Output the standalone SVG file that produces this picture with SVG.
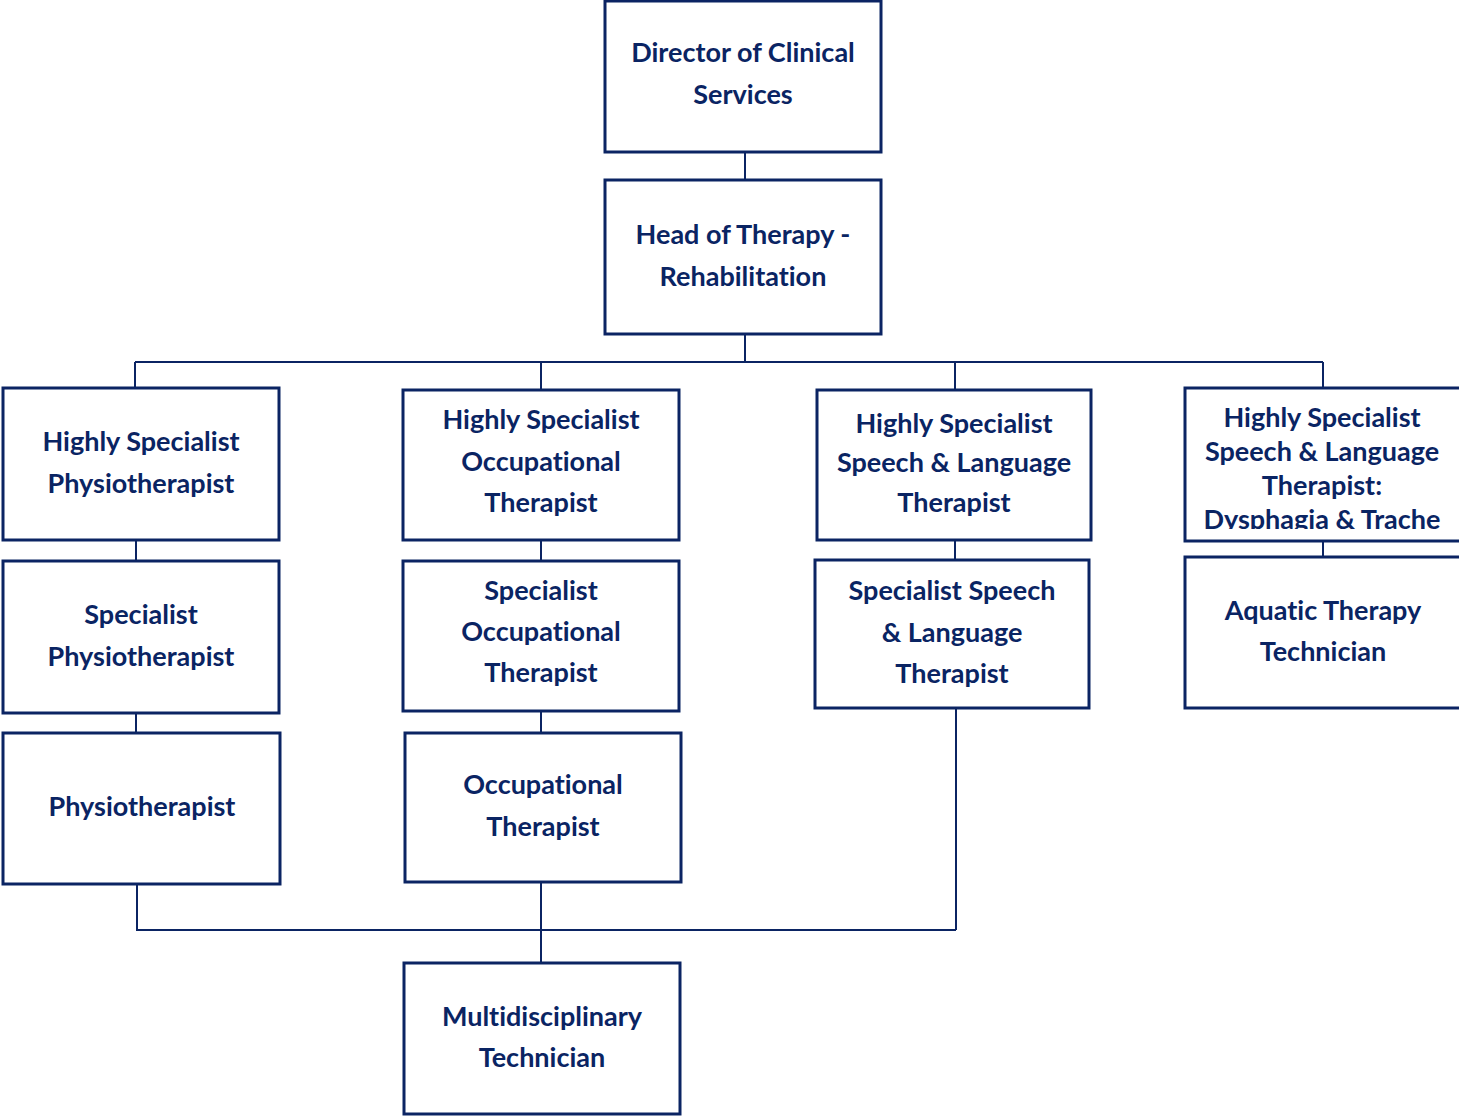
<svg xmlns="http://www.w3.org/2000/svg" width="1459" height="1117" viewBox="0 0 1459 1117">
<style>
.box{fill:#fff;stroke:#0b2463;stroke-width:3}
.c{fill:none;stroke:#0b2463;stroke-width:2}
text{font-family:Lato,"Open Sans","Liberation Sans",sans-serif;font-weight:700;font-size:27px;fill:#0a2463;text-anchor:middle;font-variant-ligatures:none}
</style>
<defs><clipPath id="clipD"><rect x="1186" y="389" width="273" height="140"/></clipPath></defs>
<rect width="1459" height="1117" fill="#fff"/>
<g id="connectors">
<path class="c" d="M745 152V180M745 334V362M135 362H1323M135 362V388M541 362V390M955 362V390M1323 362V388"/>
<path class="c" d="M136 540V561M541 540V561M955 540V560M1323 541V557M136 713V733M541 711V733"/>
<path class="c" d="M137 884V930H956M956 708V930M541 882V963"/>
</g>
<g id="n1"><rect class="box" x="605" y="1" width="276" height="151"/><text x="743" y="62">Director of Clinical</text><text x="743" y="104">Services</text></g>
<g id="n2"><rect class="box" x="605" y="180" width="276" height="154"/><text x="743" y="244">Head of Therapy -</text><text x="743" y="286">Rehabilitation</text></g>
<g id="n3"><rect class="box" x="3" y="388" width="276" height="152"/><text x="141" y="451">Highly Specialist</text><text x="141" y="493">Physiotherapist</text></g>
<g id="n4"><rect class="box" x="403" y="390" width="276" height="150"/><text x="541" y="429">Highly Specialist</text><text x="541" y="471">Occupational</text><text x="541" y="512">Therapist</text></g>
<g id="n5"><rect class="box" x="817" y="390" width="274" height="150"/><text x="954" y="433">Highly Specialist</text><text x="954" y="472">Speech &amp; Language</text><text x="954" y="512">Therapist</text></g>
<g id="n6"><rect class="box" x="1185" y="388" width="276" height="153"/><g clip-path="url(#clipD)"><text x="1322" y="427">Highly Specialist</text><text x="1322" y="461">Speech &amp; Language</text><text x="1322" y="495">Therapist:</text><text x="1322" y="529">Dysphagia &amp; Trache</text></g></g>
<g id="n7"><rect class="box" x="3" y="561" width="276" height="152"/><text x="141" y="624">Specialist</text><text x="141" y="666">Physiotherapist</text></g>
<g id="n8"><rect class="box" x="403" y="561" width="276" height="150"/><text x="541" y="600">Specialist</text><text x="541" y="641">Occupational</text><text x="541" y="682">Therapist</text></g>
<g id="n9"><rect class="box" x="815" y="560" width="274" height="148"/><text x="952" y="600">Specialist Speech</text><text x="952" y="642">&amp; Language</text><text x="952" y="683">Therapist</text></g>
<g id="n10"><rect class="box" x="1185" y="557" width="276" height="151"/><text x="1323" y="620">Aquatic Therapy</text><text x="1323" y="661">Technician</text></g>
<g id="n11"><rect class="box" x="3" y="733" width="277" height="151"/><text x="142" y="816">Physiotherapist</text></g>
<g id="n12"><rect class="box" x="405" y="733" width="276" height="149"/><text x="543" y="794">Occupational</text><text x="543" y="836">Therapist</text></g>
<g id="n13"><rect class="box" x="404" y="963" width="276" height="151"/><text x="542" y="1026">Multidisciplinary</text><text x="542" y="1067">Technician</text></g>
</svg>
